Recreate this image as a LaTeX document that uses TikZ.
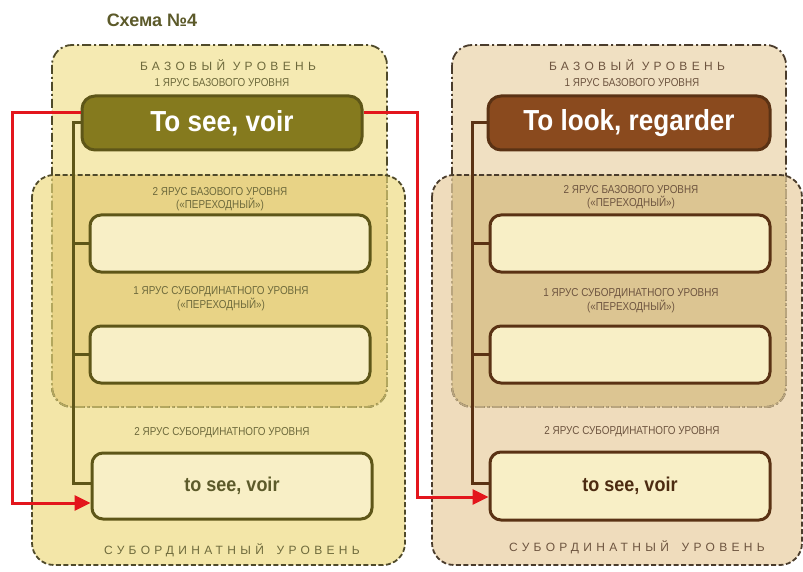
\documentclass[tikz,border=0pt]{standalone}
\usepackage{fontspec}
\setmainfont{Liberation Sans}
\newfontfamily\narrowf[FakeStretch=0.86]{Liberation Sans}
\newfontfamily\condf[FakeStretch=0.9]{Liberation Sans}
\newfontfamily\spacedf[LetterSpace=36]{Liberation Sans}
\usetikzlibrary{arrows.meta}
\definecolor{upL}{HTML}{F5EAB2}
\definecolor{loL}{HTML}{F3E6A8}
\definecolor{ovL}{HTML}{E8D386}
\definecolor{upR}{HTML}{F0E0C2}
\definecolor{loR}{HTML}{EFDCBC}
\definecolor{ovR}{HTML}{DCC592}
\definecolor{bdL}{HTML}{4F4A2A}
\definecolor{bdLlight}{HTML}{B3A75E}
\definecolor{bdR}{HTML}{4A3C2C}
\definecolor{bdRlight}{HTML}{B9A57E}
\definecolor{olive}{HTML}{857A1E}
\definecolor{oliveD}{HTML}{5E5618}
\definecolor{brownM}{HTML}{8A4A1E}
\definecolor{brownD}{HTML}{5A3214}
\definecolor{cream}{HTML}{F8EFC6}
\definecolor{txtL}{HTML}{6E6A3C}
\definecolor{txtR}{HTML}{6E5540}
\definecolor{titlec}{HTML}{5C5A2A}
\definecolor{redc}{HTML}{E3161C}
\tikzset{
  upborder/.style={line width=1.8pt, dash pattern=on 9pt off 3pt on 2pt off 3pt},
  loborder/.style={line width=1.8pt, dash pattern=on 5pt off 2.5pt},
  mainbox/.style={line width=3pt, rounded corners=13pt, minimum width=280pt, minimum height=54pt,
    text=white, inner sep=0pt, font=\condf\bfseries\fontsize{29}{30}\selectfont},
  subbox/.style={line width=3pt, rounded corners=11pt, fill=cream, minimum width=280pt,
    minimum height=57pt, inner sep=0pt, font=\condf\bfseries\fontsize{20}{22}\selectfont},
  small/.style={font=\narrowf\fontsize{11.5}{12.5}\selectfont, align=center, inner sep=0pt},
  head/.style={font=\spacedf\fontsize{12}{13}\selectfont, inner sep=0pt},
  trunkL/.style={draw=oliveD, line width=3pt},
  trunkR/.style={draw=brownD, line width=3pt},
  redline/.style={draw=redc, line width=3pt, -{Triangle[length=16pt,width=15pt]}}
}
\begin{document}
\begin{tikzpicture}[x=1pt,y=-1pt]
\useasboundingbox (0,0) rectangle (803,572);
\fill[white] (0,0) rectangle (803,572);

% ---------- left group backgrounds ----------
\fill[upL, rounded corners=20pt] (52,45) rectangle (387,407);
\fill[loL, rounded corners=22pt] (32,175) rectangle (405,565);
\begin{scope}
  \clip[rounded corners=20pt] (52,45) rectangle (387,407);
  \fill[ovL, rounded corners=22pt] (32,175) rectangle (405,565);
\end{scope}
\draw[upborder, draw=bdL, rounded corners=20pt] (52,45) rectangle (387,407);
\begin{scope}
  \clip[rounded corners=22pt] (32,175) rectangle (405,565);
  \draw[upborder, draw=bdLlight, rounded corners=20pt] (52,45) rectangle (387,407);
\end{scope}
\draw[loborder, draw=bdL, rounded corners=22pt] (32,175) rectangle (405,565);

% ---------- right group backgrounds ----------
\fill[upR, rounded corners=20pt] (452,45) rectangle (786,407);
\fill[loR, rounded corners=22pt] (432,175) rectangle (802,565);
\begin{scope}
  \clip[rounded corners=20pt] (452,45) rectangle (786,407);
  \fill[ovR, rounded corners=22pt] (432,175) rectangle (802,565);
\end{scope}
\draw[upborder, draw=bdR, rounded corners=20pt] (452,45) rectangle (786,407);
\begin{scope}
  \clip[rounded corners=22pt] (432,175) rectangle (802,565);
  \draw[upborder, draw=bdRlight, rounded corners=20pt] (452,45) rectangle (786,407);
\end{scope}
\draw[loborder, draw=bdR, rounded corners=22pt] (432,175) rectangle (802,565);

% ---------- title ----------
\node[text=titlec, font=\bfseries\fontsize{18}{20}\selectfont] (title) at (152,20) {Схема №4};

% ---------- left texts ----------
\node[head, text=txtL] (hL1) at (228,65) {БАЗОВЫЙ УРОВЕНЬ};
\node[small, text=txtL] (tL1) at (222,83) {1 ЯРУС БАЗОВОГО УРОВНЯ};
\node[small, text=txtL] (tL2) at (220,199) {2 ЯРУС БАЗОВОГО УРОВНЯ\\(«ПЕРЕХОДНЫЙ»)};
\node[small, text=txtL] (tL3) at (221,299) {1 ЯРУС СУБОРДИНАТНОГО УРОВНЯ\\(«ПЕРЕХОДНЫЙ»)};
\node[small, text=txtL] (tL4) at (222,433) {2 ЯРУС СУБОРДИНАТНОГО УРОВНЯ};
\node[head, text=txtL] (hL2) at (232,550) {СУБОРДИНАТНЫЙ\hspace{5pt} УРОВЕНЬ};

% ---------- right texts ----------
\node[head, text=txtR] (hR1) at (637,65) {БАЗОВЫЙ УРОВЕНЬ};
\node[small, text=txtR] (tR1) at (632,83) {1 ЯРУС БАЗОВОГО УРОВНЯ};
\node[small, text=txtR] (tR2) at (631,197) {2 ЯРУС БАЗОВОГО УРОВНЯ\\(«ПЕРЕХОДНЫЙ»)};
\node[small, text=txtR] (tR3) at (631,301) {1 ЯРУС СУБОРДИНАТНОГО УРОВНЯ\\(«ПЕРЕХОДНЫЙ»)};
\node[small, text=txtR] (tR4) at (632,432) {2 ЯРУС СУБОРДИНАТНОГО УРОВНЯ};
\node[head, text=txtR] (hR2) at (637,547) {СУБОРДИНАТНЫЙ\hspace{5pt} УРОВЕНЬ};

% ---------- left boxes ----------
\node[mainbox, draw=oliveD, fill=olive] (mL) at (222,123) {To see, voir};
\node[subbox, draw=oliveD] (sL1) at (230,243.5) {};
\node[subbox, draw=oliveD] (sL2) at (230,354.5) {};
\node[subbox, draw=oliveD, text=titlec, minimum height=66pt] (sL3) at (232,486) {to see, voir};

% ---------- right boxes ----------
\node[mainbox, draw=brownD, fill=brownM, minimum width=282pt] (mR) at (629,123) {To look, regarder};
\node[subbox, draw=brownD] (sR1) at (630,243.5) {};
\node[subbox, draw=brownD] (sR2) at (630,354.5) {};
\node[subbox, draw=brownD, text=brownD!85!black, minimum height=68pt] (sR3) at (630,486) {to see, voir};

% ---------- trunks ----------
\coordinate (kL1) at (73,123);
\coordinate (kL2) at (73,483);
\draw[trunkL] (mL.west) -- (kL1) -- (kL2) -- (sL3.west |- kL2);
\draw[trunkL] (sL1.west) -- (sL1.west -| kL1);
\draw[trunkL] (sL2.west) -- (sL2.west -| kL1);

\coordinate (kR1) at (472,123);
\coordinate (kR2) at (472,483);
\draw[trunkR] (mR.west) -- (kR1) -- (kR2) -- (sR3.west |- kR2);
\draw[trunkR] (sR1.west) -- (sR1.west -| kR1);
\draw[trunkR] (sR2.west) -- (sR2.west -| kR1);

% ---------- red arrows ----------
\coordinate (rL1) at (12,113);
\coordinate (rL2) at (12,503);
\draw[redline] ([yshift=10pt]mL.west) -- (rL1) -- (rL2) -- (sL3.west |- rL2);
\coordinate (rR1) at (417,113);
\coordinate (rR2) at (417,497);
\draw[redline] ([yshift=10pt]mL.east) -- (rR1) -- (rR2) -- (sR3.west |- rR2);
\end{tikzpicture}
\end{document}
